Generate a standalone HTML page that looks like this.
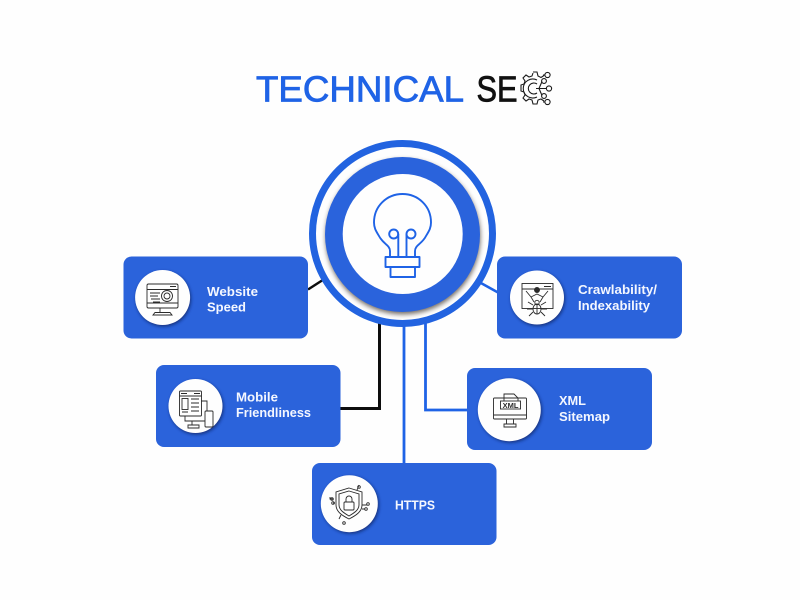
<!DOCTYPE html>
<html lang="en">
<head>
<meta charset="utf-8">
<title>Technical SEO</title>
<style>
html,body{margin:0;padding:0;background:#fefefe;width:800px;height:600px;overflow:hidden}
svg{display:block}
text{font-family:"Liberation Sans",sans-serif}
.l{font-size:13px;font-weight:700;fill:#f4f7ff}
.i{fill:none;stroke:#2a2a2a;stroke-width:.9}
</style>
</head>
<body>
<svg width="800" height="600" viewBox="0 0 800 600" xmlns="http://www.w3.org/2000/svg">
<defs>
<filter id="s" x="-30%" y="-30%" width="160%" height="160%"><feGaussianBlur stdDeviation="2.5"/></filter>
<filter id="b" x="-30%" y="-30%" width="160%" height="160%"><feGaussianBlur stdDeviation="1.5"/></filter>
</defs>
<rect width="800" height="600" fill="#fefefe"/>

<!-- title -->
<text x="256" y="101.500" font-size="36" fill="#1f63e6" stroke="#1f63e6" stroke-width=".8" textLength="208" lengthAdjust="spacingAndGlyphs">TECHNICAL</text>
<text x="476.500" y="101.500" font-size="36" fill="#111" stroke="#111" stroke-width=".8" textLength="41" lengthAdjust="spacingAndGlyphs">SE</text>
<g fill="none" stroke="#1b1b1b" stroke-width="1.100">
<path d="M533 72l4 0 1 4 3 1.500 3-2M521 88l0-3 3-1 1-3-2-3 3-3 3 2 3-1 1-3M521 88l0 3 3 1 1 3-2 3 3 3 3-2 3 1 1 4 4 0 1-4 3-1 3 2"/>
<path d="M537 80a9.500 9.500 0 1 0 0 17M537 84a5.500 5.500 0 1 0 0 9"/>
<path d="M536 88.500h10.500M539 88.500l3-7M539 88.500l3 7M543 75h2M543 102h2"/>
<circle cx="547.500" cy="75" r="2.600"/><circle cx="544" cy="81" r="2.400"/><circle cx="549" cy="88.500" r="2.600"/><circle cx="544" cy="96" r="2.400"/><circle cx="547.500" cy="102" r="2.600"/>
</g>

<!-- connectors -->
<path d="M308 289.500L322 280.500" stroke="#0d0d0d" stroke-width="2.500" fill="none"/>
<path d="M379.500 320V408.500H340" stroke="#0d0d0d" stroke-width="3" fill="none"/>
<path d="M404 322V464" stroke="#1f63e6" stroke-width="2.800" fill="none"/>
<path d="M425.500 322V410H468" stroke="#1f63e6" stroke-width="2.800" fill="none"/>
<path d="M480 282.500L498 292.500" stroke="#1f63e6" stroke-width="2.500" fill="none"/>

<!-- central circle -->
<circle cx="402.500" cy="233.500" r="90" fill="#fefefe" stroke="#2263e0" stroke-width="7"/>
<circle cx="403" cy="237" r="77.500" fill="#4a4038" opacity=".75" filter="url(#s)"/>
<circle cx="402.500" cy="234.500" r="77.500" fill="#2a63dc"/>
<circle cx="402.700" cy="234" r="60" fill="#fefefe"/>
<g fill="none" stroke="#1f63e6" stroke-width="1.900" stroke-linejoin="round">
<path d="M390 257V251C390 245 383 244 379 236C376 231 374 228 374 222.500C374 206 387 194 402.500 194C418 194 431 206 431 222.500C431 228 429 231 426 236C422 244 415 245 415 251V257"/>
<rect x="385.500" y="257" width="34" height="10"/>
<rect x="390.500" y="267" width="24.500" height="10"/>
<circle cx="393.700" cy="234" r="4.500"/>
<circle cx="411" cy="234" r="4.500"/>
<path d="M398.300 234V257M406.500 234V257"/>
</g>

<!-- cards -->
<g fill="#2b63db">
<rect x="123.500" y="256.500" width="184.500" height="82" rx="8"/>
<rect x="156" y="365" width="184.500" height="82" rx="8"/>
<rect x="497" y="256.500" width="185" height="82" rx="8"/>
<rect x="467" y="368" width="185" height="82" rx="8"/>
<rect x="312" y="463" width="184.500" height="82" rx="8"/>
</g>

<!-- icon discs -->
<g fill="#0c1f55" opacity=".7" filter="url(#b)">
<circle cx="163.500" cy="299" r="27.500"/>
<circle cx="196.500" cy="407.500" r="27"/>
<circle cx="538" cy="299" r="27"/>
<circle cx="510.500" cy="411" r="31.500"/>
<circle cx="350.500" cy="505" r="28.500"/>
</g>
<g fill="#fefefe">
<circle cx="162.600" cy="297.500" r="27.500"/>
<circle cx="195.500" cy="406" r="27"/>
<circle cx="537" cy="297.500" r="27"/>
<circle cx="509.300" cy="409.700" r="31.500"/>
<circle cx="349.300" cy="503.700" r="28.500"/>
</g>

<!-- speed icon -->
<g class="i">
<rect x="147" y="284" width="31" height="24" rx="1.500"/>
<path d="M147 289.500H178M147 303H178M160 308V312M170 286.500h6"/>
<path d="M155 312.500H170L172 315H153Z"/>
<circle cx="167" cy="296" r="5.500"/><circle cx="167" cy="296" r="3"/>
<path d="M150 293h10M150 296h8M151 299h9M153 302h7"/>
</g>

<!-- mobile icon -->
<g class="i">
<rect x="179.500" y="391" width="22" height="25" rx="1"/>
<path d="M179.500 396H201.500M181 393.500h6M194 393.500h6"/>
<rect x="182" y="398.500" width="6" height="11"/>
<path d="M191 399h8M191 403h8M191 407h8M182 412h6M191 411h8"/>
<path d="M201 401H207V411M185 416V421H205"/>
<path d="M192 421V425M188 425H199V428H188Z"/>
<rect x="205" y="411" width="8" height="16" rx="1"/>
</g>

<!-- crawl icon -->
<g class="i">
<rect x="522" y="283.500" width="31" height="25"/>
<path d="M522 289H553M544 286.500h7"/>
<path d="M526 291l5 6 6-3 6 3 5-6M531 297l3 5M543 297l-3 5"/>
<circle cx="537" cy="290" r="2.500" fill="#2a2a2a"/>
<ellipse cx="537" cy="309" rx="4" ry="5"/><circle cx="537" cy="302.500" r="2.200"/>
<path d="M533 305l-5-3M541 305l5-3M533 309h-6M541 309h6M533 312l-4 4M541 312l4 4M537 304v10"/>
</g>

<!-- xml icon -->
<g class="i">
<rect x="493.500" y="398" width="33" height="21" rx="1"/>
<path d="M493.500 415H526.500"/>
<path d="M504 401V394H514L518 398V401"/>
<rect x="500.500" y="401" width="20" height="8" fill="#fefefe"/>
<path d="M506.500 419V424M513.500 419V424M504 424H516V427H504Z"/>
<text x="510.500" y="408" font-size="7.500" font-weight="700" text-anchor="middle" fill="#2a2a2a" stroke="none">XML</text>
</g>

<!-- shield icon -->
<g class="i">
<path d="M349 488L362 492V505C362 512 355 516 349 519C343 516 336 512 336 505V492Z"/>
<path d="M349 491L359 494V505C359 510 354 513 349 516C344 513 339 510 339 505V494Z"/>
<rect x="344" y="502" width="10" height="8" rx="1"/>
<path d="M346 502V499A3 3 0 0 1 352 499V502"/>
<path d="M357 490l2-5M333 499h-3v-2M335 503h-2M362 505h5M362 509h3M341 515l-2 4"/>
<circle cx="359" cy="487" r="1.300"/><circle cx="332" cy="499" r="1.300"/><circle cx="333" cy="503" r="1.300"/><circle cx="368" cy="504" r="1.300"/><circle cx="366" cy="509" r="1.300"/><circle cx="344" cy="523" r="1.300"/>
</g>

<!-- labels -->
<text class="l" x="207" y="296" textLength="51" lengthAdjust="spacingAndGlyphs">Website</text>
<text class="l" x="207" y="311.500" textLength="39" lengthAdjust="spacingAndGlyphs">Speed</text>
<text class="l" x="236" y="401.500" textLength="42" lengthAdjust="spacingAndGlyphs">Mobile</text>
<text class="l" x="236" y="417" textLength="75" lengthAdjust="spacingAndGlyphs">Friendliness</text>
<text class="l" x="578" y="294" textLength="79" lengthAdjust="spacingAndGlyphs">Crawlability/</text>
<text class="l" x="578" y="310" textLength="72" lengthAdjust="spacingAndGlyphs">Indexability</text>
<text class="l" x="559" y="405" textLength="27" lengthAdjust="spacingAndGlyphs">XML</text>
<text class="l" x="559" y="421" textLength="51" lengthAdjust="spacingAndGlyphs">Sitemap</text>
<text class="l" x="395" y="509.500" textLength="40" lengthAdjust="spacingAndGlyphs">HTTPS</text>
</svg>
</body>
</html>
